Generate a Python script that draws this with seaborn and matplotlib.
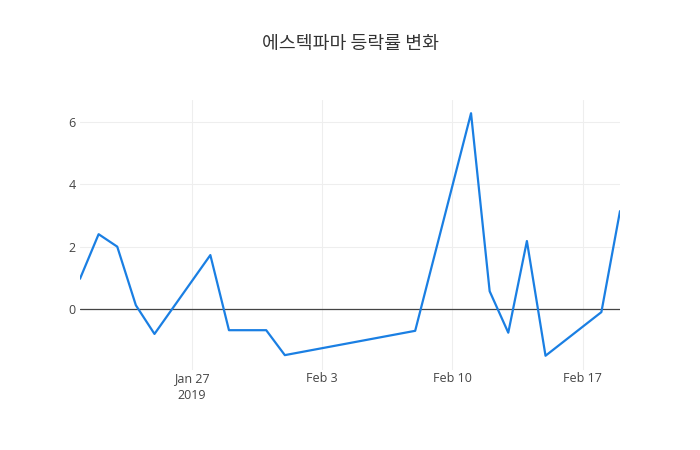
import matplotlib
matplotlib.use("Agg")
import matplotlib.pyplot as plt
import seaborn as sns
import pandas as pd

dates = ["2019-01-21", "2019-01-22", "2019-01-23", "2019-01-24", "2019-01-25",
         "2019-01-28", "2019-01-29", "2019-01-31", "2019-02-01", "2019-02-08",
         "2019-02-11", "2019-02-12", "2019-02-13", "2019-02-14", "2019-02-15",
         "2019-02-18", "2019-02-19"]
values = [0.97, 2.4, 2.0, 0.12, -0.8,
          1.73, -0.68, -0.68, -1.48, -0.7,
          6.28, 0.57, -0.76, 2.18, -1.5,
          -0.1, 3.14]
title = "에스텍파마 등락률 변화"
xticks = ["2019-01-27", "2019-02-03", "2019-02-10", "2019-02-17"]
xticklabels = ["Jan 27\n2019", "Feb 3", "Feb 10", "Feb 17"]
yticks = [0, 2, 4, 6]

df = pd.DataFrame({"date": pd.to_datetime(dates), "value": values})

sns.set_style("white")
plt.rcParams['font.family'] = ['Open Sans', 'Noto Sans CJK KR', 'DejaVu Sans']

fig = plt.figure(figsize=(7, 4.5), dpi=100)
ax = fig.add_axes([80/700, 80/450, 540/700, 270/450])

sns.lineplot(data=df, x="date", y="value", ax=ax, color="#1a7fe3", linewidth=1.6, zorder=3)

ax.set_xlim(pd.Timestamp("2019-01-21"), pd.Timestamp("2019-02-19"))
ax.set_ylim(-1.957, 6.705)
ax.set_xticks(pd.to_datetime(xticks))
ax.set_xticklabels(xticklabels, linespacing=1.35)
ax.set_yticks(yticks)
ax.grid(True, color="#eeeeee", linewidth=0.8, zorder=0)
ax.axhline(0, color="#444444", linewidth=0.9, zorder=2)
for s in ax.spines.values():
    s.set_visible(False)
ax.tick_params(axis="both", length=0, labelsize=9, labelcolor="#444444")
ax.tick_params(axis="y", pad=3)
ax.tick_params(axis="x", pad=1.5)
ax.set_xlabel("")
ax.set_ylabel("")
fig.text(0.5, 1 - 44/450, title, ha="center", va="center", fontsize=13.2,
         color="#333333", family=['Noto Sans CJK KR', 'DejaVu Sans'])

fig.savefig("out.png", dpi=100)
